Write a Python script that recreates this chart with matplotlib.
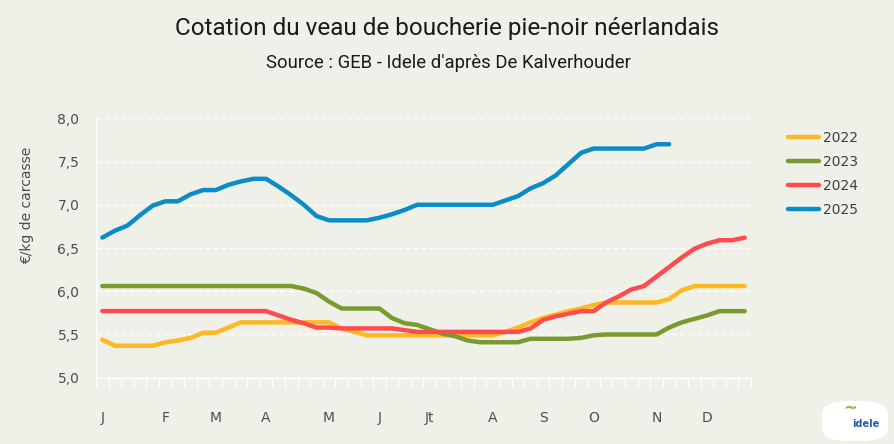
import matplotlib
matplotlib.use("Agg")
import matplotlib.pyplot as plt
from matplotlib.patches import FancyBboxPatch
import numpy as np

# weekly quotations, EUR/kg carcass
y2022 = [5.44, 5.37, 5.37, 5.37, 5.37, 5.41, 5.43, 5.46, 5.52, 5.52,
         5.58, 5.64, 5.64, 5.64, 5.64, 5.64, 5.64, 5.64, 5.64, 5.57,
         5.53, 5.49, 5.49, 5.49, 5.49, 5.49, 5.49, 5.49, 5.49, 5.49,
         5.49, 5.49, 5.53, 5.58, 5.64, 5.69, 5.73, 5.77, 5.80, 5.84,
         5.87, 5.87, 5.87, 5.87, 5.87, 5.91, 6.01, 6.06, 6.06, 6.06,
         6.06, 6.06]
y2023 = [6.06, 6.06, 6.06, 6.06, 6.06, 6.06, 6.06, 6.06, 6.06, 6.06,
         6.06, 6.06, 6.06, 6.06, 6.06, 6.06, 6.03, 5.98, 5.88, 5.80,
         5.80, 5.80, 5.80, 5.69, 5.63, 5.61, 5.56, 5.51, 5.48, 5.43,
         5.41, 5.41, 5.41, 5.41, 5.45, 5.45, 5.45, 5.45, 5.46, 5.49,
         5.50, 5.50, 5.50, 5.50, 5.50, 5.58, 5.64, 5.68, 5.72, 5.77,
         5.77, 5.77]
y2024 = [5.77, 5.77, 5.77, 5.77, 5.77, 5.77, 5.77, 5.77, 5.77, 5.77,
         5.77, 5.77, 5.77, 5.77, 5.72, 5.67, 5.63, 5.58, 5.58, 5.57,
         5.57, 5.57, 5.57, 5.57, 5.55, 5.53, 5.53, 5.53, 5.53, 5.53,
         5.53, 5.53, 5.53, 5.53, 5.57, 5.67, 5.71, 5.74, 5.77, 5.77,
         5.87, 5.94, 6.02, 6.06, 6.17, 6.28, 6.39, 6.49, 6.55, 6.59,
         6.59, 6.62]
y2025 = [6.62, 6.70, 6.76, 6.88, 6.99, 7.04, 7.04, 7.12, 7.17, 7.17,
         7.23, 7.27, 7.30, 7.30, 7.21, 7.11, 7.00, 6.87, 6.82, 6.82,
         6.82, 6.82, 6.85, 6.89, 6.94, 7.00, 7.00, 7.00, 7.00, 7.00,
         7.00, 7.00, 7.05, 7.10, 7.19, 7.25, 7.34, 7.47, 7.60, 7.65,
         7.65, 7.65, 7.65, 7.65, 7.70, 7.70]

month_labels = ["J", "F", "M", "A", "M", "J", "Jt", "A", "S", "O", "N", "D"]
month_weeks = [0, 5, 9, 13, 18, 22, 26, 31, 35, 39, 44, 48]
n_weeks = 52

series = [("2022", y2022, "#FDB823"),
          ("2023", y2023, "#789A2E"),
          ("2024", y2024, "#FF4B4E"),
          ("2025", y2025, "#0A8DC6")]

bg = "#EFF0E8"
W, H = 894, 444
fig = plt.figure(figsize=(W / 100, H / 100), dpi=100, facecolor=bg)
ax = fig.add_axes([96 / W, 1 - 377.7 / H, 655 / W, (377.7 - 118.3) / H])
ax.set_facecolor(bg)

for name, vals, col in series:
    ax.plot(np.arange(len(vals)), vals, color=col, lw=3.2, label=name,
            solid_capstyle="round", solid_joinstyle="round")

ax.set_xlim(-0.5, n_weeks - 0.5)
ax.set_ylim(5.0, 8.0)
ax.set_yticks(np.arange(5.0, 8.01, 0.5))
ax.set_yticklabels([f"{v:.1f}".replace(".", ",") for v in np.arange(5.0, 8.01, 0.5)])
ax.yaxis.grid(True, color="white", lw=1, linestyle=(0, (4, 2)))
ax.set_axisbelow(True)

ax.set_xticks(np.arange(n_weeks + 1) - 0.5)
ax.set_xticklabels([])
ax.set_xticks(month_weeks, minor=True)
ax.set_xticklabels(month_labels, minor=True)
ax.tick_params(axis="x", which="major", length=7, color="white", width=1)
ax.tick_params(axis="x", which="minor", length=0, pad=24, labelsize=10, labelcolor="#4d4d4d")
ax.tick_params(axis="y", length=0, pad=12, labelsize=10, labelcolor="#4d4d4d")

for s in ["top", "right"]:
    ax.spines[s].set_visible(False)
for s in ["left", "bottom"]:
    ax.spines[s].set_color("white")
    ax.spines[s].set_linewidth(1)

fig.text(27 / W, 1 - 205 / H, "€/kg de carcasse", rotation=90, ha="center", va="center",
         fontsize=10, color="#4d4d4d")

title_font = ["Roboto", "DejaVu Sans"]
fig.text(447 / W, 1 - 28 / H, "Cotation du veau de boucherie pie-noir néerlandais",
         ha="center", va="center", fontsize=17.5, color="#1a1a1a", family=title_font)
fig.text(448 / W, 1 - 63 / H, "Source : GEB - Idele d'après De Kalverhouder",
         ha="center", va="center", fontsize=13.3, color="#1a1a1a", family=title_font)

leg = ax.legend(loc="upper left", bbox_to_anchor=(788 / W, 1 - 131 / H),
                bbox_transform=fig.transFigure, frameon=False, borderpad=0,
                borderaxespad=0, handlelength=2.25, handletextpad=0.25,
                labelspacing=0.72, fontsize=10)
for t in leg.get_texts():
    t.set_color("#404040")

# logo
logo = FancyBboxPatch((822 / W, 1 - 441 / H), 66 / W, 40 / H,
                      boxstyle="round,pad=0,rounding_size=0.03",
                      transform=fig.transFigure, facecolor="white", edgecolor="none")
fig.patches.append(logo)
fig.text(866 / W, 1 - 424 / H, "idele", ha="center", va="center", fontsize=7,
         fontweight="bold", color="#1F5FA8")
fig.text(850 / W, 1 - 408 / H, "~", ha="center", va="center", fontsize=12,
         fontweight="bold", color="#8DC63F")

fig.savefig("out.png", dpi=100, facecolor=bg)
